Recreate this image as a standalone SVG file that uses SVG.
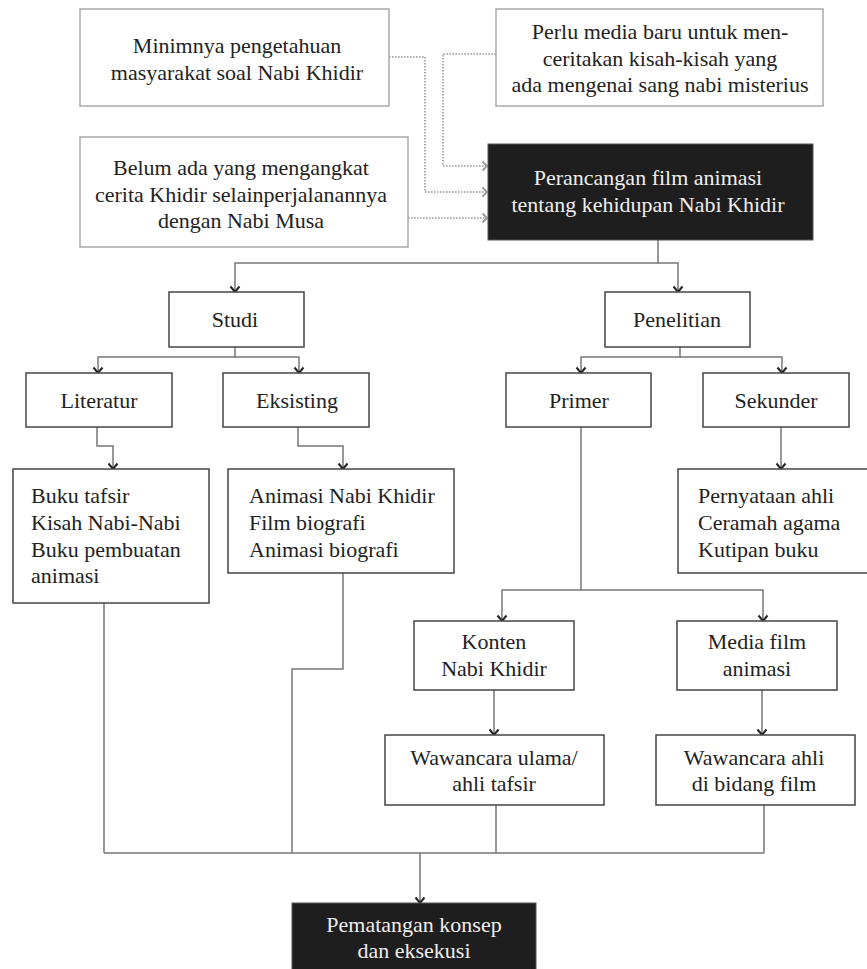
<svg xmlns="http://www.w3.org/2000/svg" width="867" height="969" viewBox="0 0 867 969">
<style>
text{font-family:"Liberation Serif","Times New Roman",serif;font-size:22px;fill:#222}
.c{text-anchor:middle}
.w{fill:#eee}
.in{fill:#fff;stroke:#aaa;stroke-width:1.5}
.bx{fill:#fff;stroke:#444;stroke-width:1.5}
.blk{fill:#1e1e1e;stroke:#555;stroke-width:1}
.dot{fill:none;stroke:#999;stroke-width:1.6;stroke-dasharray:1.6 1.4;marker-end:url(#ad)}
.ln{fill:none;stroke:#777;stroke-width:1.5}
.ar{marker-end:url(#as)}
</style>
<defs>
<marker id="as" viewBox="0 0 12 12" markerWidth="12" markerHeight="12" markerUnits="userSpaceOnUse" refX="6" refY="10" orient="0">
<path d="M1.5,4.5 L6,10 L10.5,4.5" fill="none" stroke="#222" stroke-width="2"/>
</marker>
<marker id="ad" viewBox="0 0 10 12" markerWidth="10" markerHeight="12" markerUnits="userSpaceOnUse" refX="9" refY="6" orient="auto">
<path d="M4.5,1.5 L9,6 L4.5,10.5" fill="none" stroke="#999" stroke-width="1.8"/>
</marker>
</defs>
<rect width="867" height="969" fill="#fff"/>
<g id="connectors">
<path class="dot" d="M389,57 H425 V192 H487"/>
<path class="dot" d="M496,54 H443 V166 H487"/>
<path class="dot" d="M408,218 H487"/>
<path class="ln ar" d="M658,240 V263 H235 V292"/>
<path class="ln ar" d="M658,263 H678 V292"/>
<path class="ln ar" d="M235,347 V357 H98 V373"/>
<path class="ln ar" d="M235,357 H299 V373"/>
<path class="ln ar" d="M680,347 V357 H581 V373"/>
<path class="ln ar" d="M680,357 H782 V373"/>
<path class="ln ar" d="M97,427 V446 H113 V469"/>
<path class="ln ar" d="M298,427 V446 H343 V469"/>
<path class="ln ar" d="M781,427 V469"/>
<path class="ln ar" d="M581,427 V590 H502 V621"/>
<path class="ln ar" d="M581,590 H763 V621"/>
<path class="ln ar" d="M494,690 V735"/>
<path class="ln ar" d="M762,690 V735"/>
<path class="ln" d="M104,603 V853"/>
<path class="ln" d="M343,573 V669 H292 V853"/>
<path class="ln" d="M496,805 V853"/>
<path class="ln" d="M764,805 V853"/>
<path class="ln" d="M104,853 H764"/>
<path class="ln ar" d="M420,853 V903"/>
</g>
<g id="n-minimnya">
<rect class="in" x="80" y="9" width="309" height="97"/>
<text class="c" x="237" y="53">Minimnya pengetahuan</text>
<text class="c" x="237" y="80">masyarakat soal Nabi Khidir</text>
</g>
<g id="n-perlu">
<rect class="in" x="496" y="9" width="327" height="97"/>
<text class="c" x="660" y="39">Perlu media baru untuk men-</text>
<text class="c" x="660" y="66">ceritakan kisah-kisah yang</text>
<text class="c" x="660" y="92">ada mengenai sang nabi misterius</text>
</g>
<g id="n-belum">
<rect class="in" x="80" y="137" width="328" height="110"/>
<text class="c" x="241" y="175">Belum ada yang mengangkat</text>
<text class="c" x="241" y="202">cerita Khidir selainperjalanannya</text>
<text class="c" x="241" y="228">dengan Nabi Musa</text>
</g>
<g id="n-perancangan">
<rect class="blk" x="488" y="144" width="325" height="96"/>
<text class="c w" x="648" y="185">Perancangan film animasi</text>
<text class="c w" x="648" y="212">tentang kehidupan Nabi Khidir</text>
</g>
<g id="n-studi">
<rect class="bx" x="169" y="292" width="135" height="55"/>
<text class="c" x="235" y="327">Studi</text>
</g>
<g id="n-penelitian">
<rect class="bx" x="605" y="292" width="145" height="55"/>
<text class="c" x="677" y="327">Penelitian</text>
</g>
<g id="n-literatur">
<rect class="bx" x="26" y="373" width="146" height="54"/>
<text class="c" x="99" y="408">Literatur</text>
</g>
<g id="n-eksisting">
<rect class="bx" x="223" y="373" width="146" height="54"/>
<text class="c" x="297" y="408">Eksisting</text>
</g>
<g id="n-primer">
<rect class="bx" x="506" y="373" width="145" height="54"/>
<text class="c" x="579" y="408">Primer</text>
</g>
<g id="n-sekunder">
<rect class="bx" x="703" y="373" width="146" height="54"/>
<text class="c" x="776" y="408">Sekunder</text>
</g>
<g id="n-buku">
<rect class="bx" x="13" y="469" width="196" height="134"/>
<text x="31" y="503">Buku tafsir</text>
<text x="31" y="530">Kisah Nabi-Nabi</text>
<text x="31" y="557">Buku pembuatan</text>
<text x="31" y="583">animasi</text>
</g>
<g id="n-animasi">
<rect class="bx" x="228" y="469" width="226" height="104"/>
<text x="249" y="503">Animasi Nabi Khidir</text>
<text x="249" y="530">Film biografi</text>
<text x="249" y="557">Animasi biografi</text>
</g>
<g id="n-pernyataan">
<rect class="bx" x="678" y="469" width="200" height="104"/>
<text x="698" y="503">Pernyataan ahli</text>
<text x="698" y="530">Ceramah agama</text>
<text x="698" y="557">Kutipan buku</text>
</g>
<g id="n-konten">
<rect class="bx" x="414" y="621" width="160" height="69"/>
<text class="c" x="494" y="649">Konten</text>
<text class="c" x="494" y="676">Nabi Khidir</text>
</g>
<g id="n-media">
<rect class="bx" x="677" y="621" width="160" height="69"/>
<text class="c" x="757" y="649">Media film</text>
<text class="c" x="757" y="676">animasi</text>
</g>
<g id="n-wulama">
<rect class="bx" x="385" y="735" width="219" height="70"/>
<text class="c" x="494" y="765">Wawancara ulama/</text>
<text class="c" x="494" y="791">ahli tafsir</text>
</g>
<g id="n-wahli">
<rect class="bx" x="656" y="735" width="199" height="70"/>
<text class="c" x="754" y="765">Wawancara ahli</text>
<text class="c" x="754" y="791">di bidang film</text>
</g>
<g id="n-pematangan">
<rect class="blk" x="292" y="903" width="244" height="70"/>
<text class="c w" x="414" y="932">Pematangan konsep</text>
<text class="c w" x="414" y="958">dan eksekusi</text>
</g>
</svg>
